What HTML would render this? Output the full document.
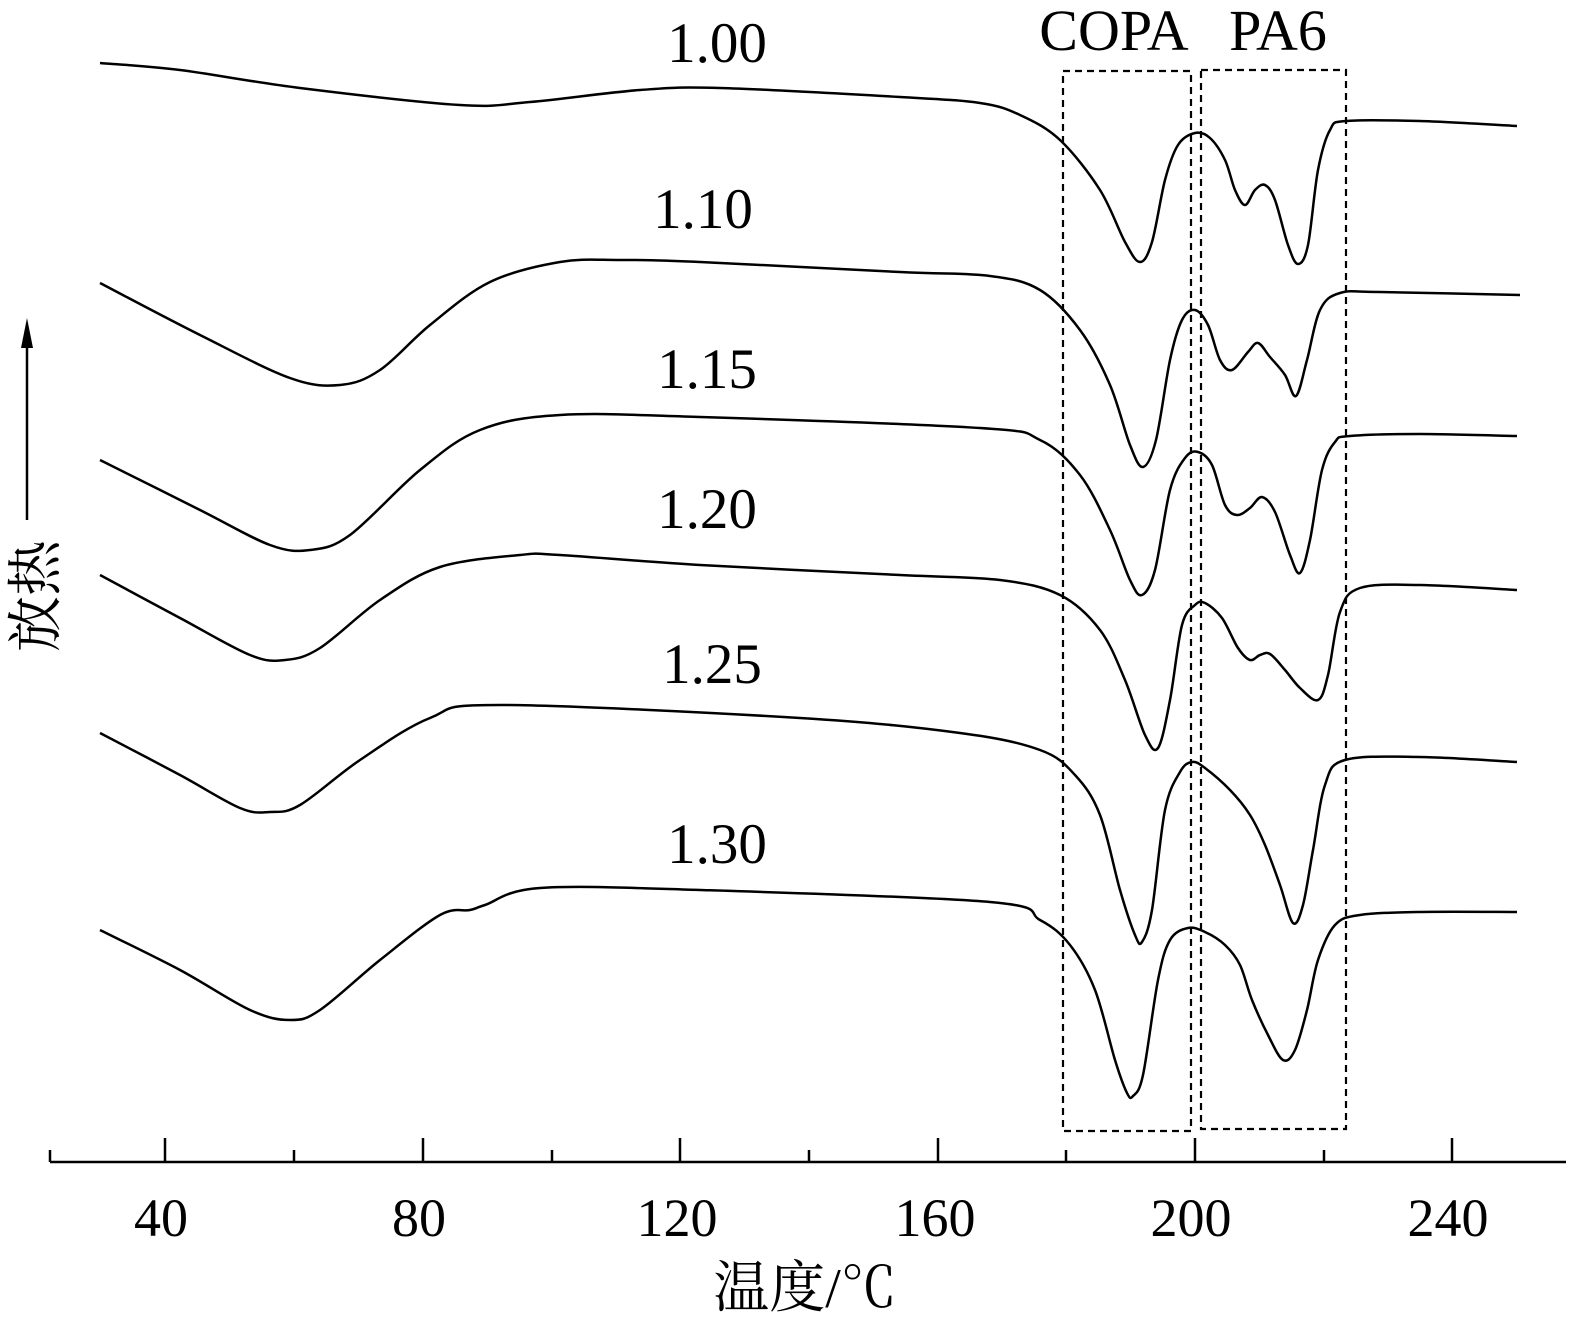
<!DOCTYPE html>
<html><head><meta charset="utf-8"><style>
html,body{margin:0;padding:0;background:#fff}
svg{display:block}
text{font-family:"Liberation Serif","Noto Serif CJK SC",serif;fill:#000}
</style></head><body>
<svg id="s" width="1571" height="1328" viewBox="0 0 1571 1328" xmlns="http://www.w3.org/2000/svg">
<g fill="none" stroke="#000" stroke-width="2.5" id="curves"></g>
<g fill="none" stroke="#000" stroke-width="2.2" stroke-dasharray="7,5">
<rect x="1063" y="71" width="128" height="1060"/>
<rect x="1201" y="70" width="145" height="1059"/>
</g>
<g stroke="#000" stroke-width="2.5">
<line x1="50" y1="1162" x2="1566" y2="1162"/>
<line x1="165" y1="1162" x2="165" y2="1138"/>
<line x1="423" y1="1162" x2="423" y2="1138"/>
<line x1="680" y1="1162" x2="680" y2="1138"/>
<line x1="938" y1="1162" x2="938" y2="1138"/>
<line x1="1195" y1="1162" x2="1195" y2="1138"/>
<line x1="1452" y1="1162" x2="1452" y2="1138"/>
<line x1="50" y1="1162" x2="50" y2="1150"/>
<line x1="294" y1="1162" x2="294" y2="1150"/>
<line x1="552" y1="1162" x2="552" y2="1150"/>
<line x1="809" y1="1162" x2="809" y2="1150"/>
<line x1="1066" y1="1162" x2="1066" y2="1150"/>
<line x1="1324" y1="1162" x2="1324" y2="1150"/>
<line x1="27" y1="520" x2="27" y2="345"/>
</g>
<polygon points="27,318 21,348 33,348" fill="#000"/>
<g font-size="54" text-anchor="middle">
<text x="161" y="1236">40</text>
<text x="419" y="1236">80</text>
<text x="677" y="1236">120</text>
<text x="935" y="1236">160</text>
<text x="1191" y="1236">200</text>
<text x="1448" y="1236">240</text>
</g>
<g font-size="57" text-anchor="middle">
<text x="717" y="62">1.00</text>
<text x="703" y="228">1.10</text>
<text x="707" y="388">1.15</text>
<text x="707" y="528">1.20</text>
<text x="712" y="683">1.25</text>
<text x="717" y="863">1.30</text>
</g>
<g font-size="58" text-anchor="middle">
<text x="1114" y="50">COPA</text>
<text x="1278" y="50">PA6</text>
</g>
<text x="805" y="1307" font-size="56" text-anchor="middle">温度/℃</text>
<text transform="translate(55,596) rotate(-90)" font-size="56" text-anchor="middle">放热</text>
</svg>
<script>
var C=[
[[100,63],[180,70],[300,88],[460,105],[530,102],[640,90],[720,88],[900,97],[980,103],[1020,115],[1060,140],[1100,190],[1125,242],[1140,262],[1152,242],[1165,180],[1178,145],[1195,133],[1210,138],[1225,160],[1235,190],[1245,205],[1255,190],[1265,185],[1275,200],[1288,245],[1298,264],[1308,245],[1318,170],[1330,130],[1346,121],[1420,121],[1517,126]],
[[100,283],[200,335],[290,378],[340,385],[380,370],[430,325],[490,282],[560,262],[620,260],[700,262],[900,272],[990,276],[1040,290],[1080,330],[1110,385],[1130,445],[1143,467],[1156,440],[1170,360],[1182,320],[1195,310],[1208,325],[1220,360],[1232,370],[1248,352],[1258,343],[1270,357],[1285,375],[1296,396],[1307,360],[1320,310],[1340,293],[1380,292],[1520,295]],
[[100,460],[200,510],[270,545],[310,550],[350,535],[420,470],[480,430],[560,415],[700,417],[980,428],[1040,440],[1080,475],[1110,530],[1130,580],[1142,595],[1155,570],[1170,490],[1185,458],[1198,452],[1212,465],[1225,505],[1237,515],[1250,508],[1262,497],[1275,512],[1290,555],[1300,573],[1310,540],[1322,470],[1335,442],[1350,436],[1420,434],[1517,436]],
[[100,575],[180,618],[250,655],[285,660],[320,648],[380,600],[440,567],[520,555],[560,555],[700,565],[900,575],[1000,580],[1060,595],[1100,630],[1125,680],[1145,735],[1158,748],[1170,700],[1182,625],[1195,605],[1205,603],[1222,618],[1238,648],[1250,660],[1260,655],[1270,654],[1285,670],[1300,688],[1318,700],[1328,675],[1340,612],[1360,588],[1420,585],[1517,590]],
[[100,733],[180,775],[240,808],[270,812],[300,805],[360,760],[430,718],[500,705],[800,718],[960,733],[1040,750],[1075,775],[1100,815],[1120,890],[1135,935],[1142,942],[1152,910],[1165,810],[1180,772],[1192,762],[1205,768],[1230,790],[1250,815],[1265,845],[1280,885],[1293,923],[1303,905],[1313,850],[1325,785],[1345,760],[1420,757],[1517,762]],
[[100,930],[180,970],[250,1010],[290,1020],[320,1010],[380,960],[440,915],[470,910],[485,905],[540,888],[700,890],[990,902],[1040,920],[1070,945],[1095,990],[1115,1060],[1127,1093],[1133,1096],[1143,1075],[1158,980],[1170,940],[1188,928],[1205,932],[1225,945],[1240,965],[1252,1000],[1268,1035],[1283,1060],[1295,1050],[1307,1010],[1318,960],[1335,925],[1360,915],[1420,912],[1517,912]]
];
var g=document.getElementById('curves'),ns='http://www.w3.org/2000/svg';
C.forEach(function(p){
 var d='M'+p[0][0]+','+p[0][1];
 for(var i=0;i<p.length-1;i++){
  var p0=p[i-1]||p[i],p1=p[i],p2=p[i+1],p3=p[i+2]||p2;
  var c1x=p1[0]+(p2[0]-p0[0])/6,c1y=p1[1]+(p2[1]-p0[1])/6;
  var c2x=p2[0]-(p3[0]-p1[0])/6,c2y=p2[1]-(p3[1]-p1[1])/6;
  d+=' C'+c1x.toFixed(1)+','+c1y.toFixed(1)+' '+c2x.toFixed(1)+','+c2y.toFixed(1)+' '+p2[0]+','+p2[1];
 }
 var e=document.createElementNS(ns,'path');e.setAttribute('d',d);g.appendChild(e);
});
</script>
</body></html>
